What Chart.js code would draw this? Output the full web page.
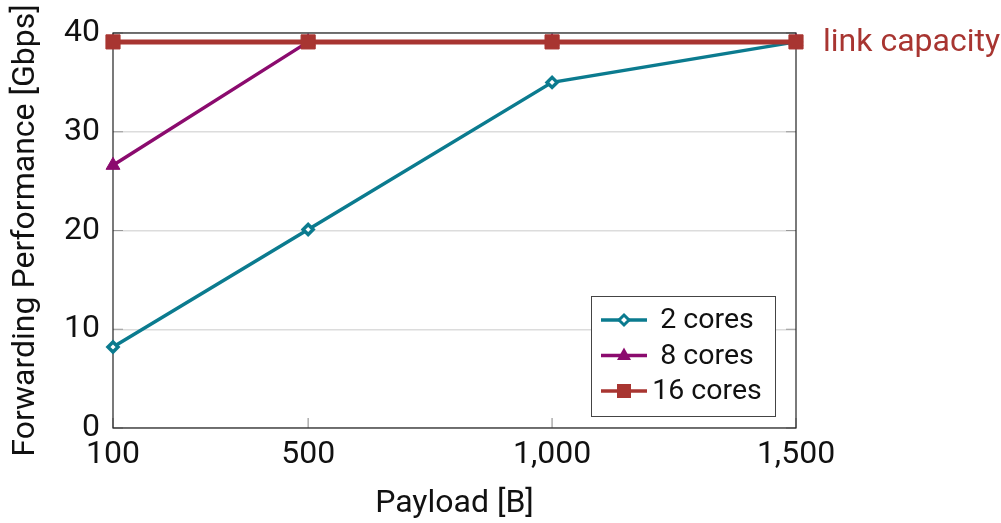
<!DOCTYPE html>
<html>
<head>
<meta charset="utf-8">
<script src="https://cdn.jsdelivr.net/npm/chart.js@4/dist/chart.umd.min.js"></script>
<style>body{margin:0;background:#fff}</style>
</head>
<body>
<canvas id="grafico" width="1001" height="523"></canvas>
<script>
/* dados do gráfico */
var payload = [100, 500, 1000, 1500];
var cores2 = [8.2, 20.1, 35.0, 39.1];
var cores8 = [26.6, 39.1, 39.1, 39.1];
var cores16 = [39.1, 39.1, 39.1, 39.1];
var xTicks = [100, 500, 1000, 1500];
var yTicks = [0, 10, 20, 30, 40];
var linkCapacity = 39.1;

var corTeal = '#0b7b8f';
var corRoxo = '#8b0b6e';
var corVermelho = '#a83531';
var fonte = 'Roboto';

function pontos(valores) {
    return payload.map(function (p, i) { return { x: p, y: valores[i] }; });
}

/* marcadores da legenda */
function marcador(ctx, tipo, x, y, cor) {
    ctx.save();
    ctx.beginPath();
    if (tipo === 'diamante') {
        ctx.moveTo(x, y - 5); ctx.lineTo(x + 5, y); ctx.lineTo(x, y + 5); ctx.lineTo(x - 5, y); ctx.closePath();
        ctx.fillStyle = '#fff'; ctx.fill();
        ctx.lineWidth = 3; ctx.strokeStyle = cor; ctx.stroke();
    } else if (tipo === 'triangulo') {
        ctx.moveTo(x, y - 8); ctx.lineTo(x + 7, y + 4.5); ctx.lineTo(x - 7, y + 4.5); ctx.closePath();
        ctx.fillStyle = cor; ctx.fill();
    } else {
        ctx.rect(x - 7, y - 7, 14, 14);
        ctx.fillStyle = cor; ctx.fill();
    }
    ctx.restore();
}

var moldura = {
    id: 'moldura',
    beforeDatasetsDraw: function (chart) {
        var ctx = chart.ctx, a = chart.chartArea;
        var sx = chart.scales.x, sy = chart.scales.y;
        ctx.save();
        ctx.strokeStyle = '#999';
        ctx.lineWidth = 1.2;
        yTicks.forEach(function (v) {
            var py = sy.getPixelForValue(v);
            ctx.beginPath();
            ctx.moveTo(a.left, py); ctx.lineTo(a.left + 10, py);
            ctx.moveTo(a.right, py); ctx.lineTo(a.right - 10, py);
            ctx.stroke();
        });
        xTicks.forEach(function (v) {
            var px = sx.getPixelForValue(v);
            ctx.beginPath();
            ctx.moveTo(px, a.bottom); ctx.lineTo(px, a.bottom - 10);
            ctx.moveTo(px, a.top); ctx.lineTo(px, a.top + 10);
            ctx.stroke();
        });
        ctx.strokeStyle = '#222';
        ctx.lineWidth = 1.2;
        ctx.strokeRect(a.left, a.top, a.right - a.left, a.bottom - a.top);
        ctx.restore();
    },
    afterDraw: function (chart) {
        var ctx = chart.ctx, a = chart.chartArea;
        var sy = chart.scales.y;
        ctx.save();
        /* rótulo da capacidade */
        ctx.font = '32px ' + fonte;
        ctx.fillStyle = corVermelho;
        ctx.textBaseline = 'middle';
        ctx.textAlign = 'left';
        ctx.fillText('link capacity', a.right + 27, sy.getPixelForValue(linkCapacity) + 1);

        /* legenda */
        var bx = 591, by = 296, bw = 184, bh = 120;
        ctx.fillStyle = '#fff';
        ctx.fillRect(bx, by, bw, bh);
        ctx.strokeStyle = '#444';
        ctx.lineWidth = 1;
        ctx.strokeRect(bx + 0.5, by + 0.5, bw, bh);
        var itens = [
            { txt: '2 cores', cor: corTeal, tipo: 'diamante' },
            { txt: '8 cores', cor: corRoxo, tipo: 'triangulo' },
            { txt: '16 cores', cor: corVermelho, tipo: 'quadrado' }
        ];
        itens.forEach(function (it, i) {
            var y = 320 + i * 35.5;
            ctx.beginPath();
            ctx.strokeStyle = it.cor;
            ctx.lineWidth = 3.5;
            ctx.moveTo(601, y); ctx.lineTo(647, y);
            ctx.stroke();
            marcador(ctx, it.tipo, 624, y, it.cor);
            ctx.fillStyle = '#111';
            ctx.textAlign = 'center';
            ctx.textBaseline = 'middle';
            ctx.font = '28.5px ' + fonte;
            ctx.fillText(it.txt, 707, y + 1);
        });
        ctx.restore();
    }
};

var ctx = document.getElementById('grafico').getContext('2d');

var grafico = new Chart(ctx, {
    type: 'line',
    data: {
        datasets: [{
            label: '16 cores',
            data: pontos(cores16),
            borderColor: corVermelho,
            backgroundColor: corVermelho,
            borderWidth: 5,
            pointStyle: 'rect',
            pointRadius: 10,
            pointBorderWidth: 1,
            order: 0,
            clip: false
        }, {
            label: '8 cores',
            data: pontos(cores8),
            borderColor: corRoxo,
            backgroundColor: corRoxo,
            borderWidth: 3.5,
            pointStyle: 'triangle',
            pointRadius: 8,
            pointBorderWidth: 1,
            order: 1,
            clip: false
        }, {
            label: '2 cores',
            data: pontos(cores2),
            borderColor: corTeal,
            backgroundColor: '#fff',
            borderWidth: 3.5,
            pointStyle: 'rectRot',
            pointRadius: 5,
            pointBorderWidth: 3.5,
            order: 2,
            clip: false
        }]
    },
    options: {
        responsive: false,
        animation: false,
        layout: { padding: { left: 0, top: 33, right: 205, bottom: 0 } },
        plugins: {
            legend: { display: false },
            tooltip: { enabled: false }
        },
        scales: {
            x: {
                type: 'linear',
                min: 100,
                max: 1500,
                afterBuildTicks: function (scale) {
                    scale.ticks = xTicks.map(function (v) { return { value: v }; });
                },
                afterFit: function (scale) { scale.height = 95; },
                grid: { display: false, drawTicks: false },
                border: { display: false },
                ticks: {
                    padding: 8,
                    maxRotation: 0,
                    color: '#111',
                    font: { family: fonte, size: 32 },
                    callback: function (v) { return v.toLocaleString('en-US'); }
                },
                title: {
                    display: true,
                    text: 'Payload [B]',
                    color: '#111',
                    font: { family: fonte, size: 32 },
                    padding: { top: 0, bottom: 0 }
                }
            },
            y: {
                min: 0,
                max: 40,
                afterBuildTicks: function (scale) {
                    scale.ticks = yTicks.map(function (v) { return { value: v }; });
                },
                afterFit: function (scale) { scale.width = 113; },
                grid: { color: '#dcdcdc', lineWidth: 1.5, drawTicks: false },
                border: { display: false },
                ticks: {
                    padding: 13,
                    color: '#111',
                    font: { family: fonte, size: 32 }
                },
                title: {
                    display: true,
                    text: 'Forwarding Performance [Gbps]',
                    color: '#111',
                    font: { family: fonte, size: 32 },
                    padding: { top: 7, bottom: 0 }
                }
            }
        }
    },
    plugins: [moldura]
});
</script>
</body>
</html>
